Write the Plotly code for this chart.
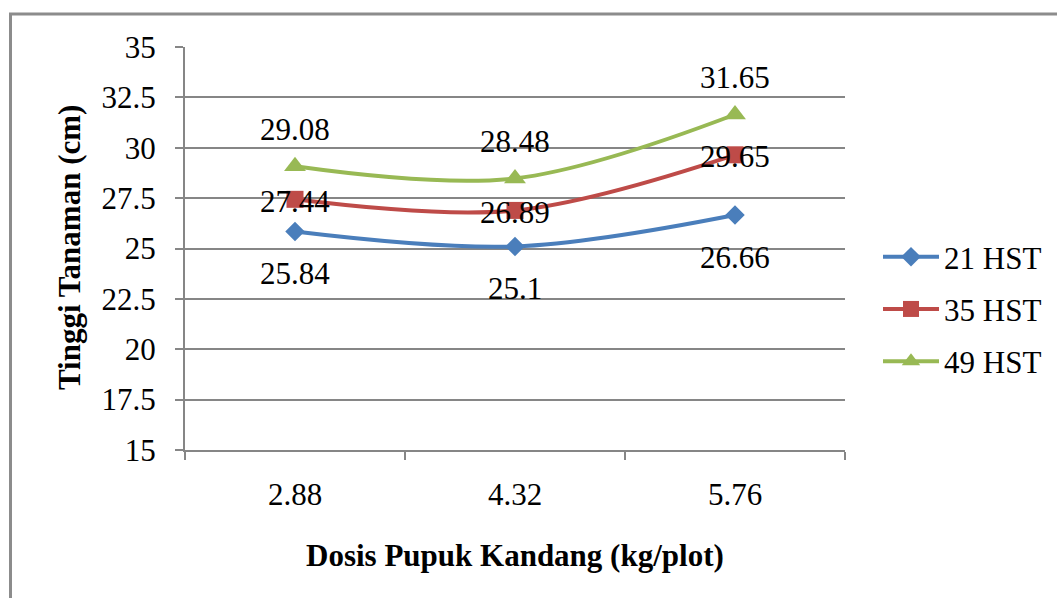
import plotly.graph_objects as go

# Dosis pupuk kandang (kg/plot) and plant height (cm) at each observation day
dosis = ["2.88", "4.32", "5.76"]
hst_21 = [25.84, 25.1, 26.66]
hst_35 = [27.44, 26.89, 29.65]
hst_49 = [29.08, 28.48, 31.65]
y_ticks = [15, 17.5, 20, 22.5, 25, 27.5, 30, 32.5, 35]

W, H = 1057, 598
FONT = "Liberation Serif"
GRID = "#868686"
FS = 31

series = [
    ("21 HST", hst_21, "#4A7EBB", "diamond", 15, -42),
    ("35 HST", hst_35, "#BE4B48", "square", 17, -2),
    ("49 HST", hst_49, "#98B954", "triangle-up", 19, 37),
]

fig = go.Figure()
annotations = []
for name, vals, color, sym, msize, shift in series:
    fig.add_trace(go.Scatter(
        x=dosis, y=vals, name=name, mode="lines+markers", legendgroup=name,
        line=dict(color=color, width=4, shape="spline", smoothing=1),
        marker=dict(symbol=sym, size=msize, color=color),
    ))
    # value labels, anchored on the category index
    for i, yv in enumerate(vals):
        annotations.append(dict(
            x=i, y=yv, xref="x", yref="y", text=f"{yv:g}",
            showarrow=False, yshift=shift,
            font=dict(family=FONT, size=FS, color="black"),
        ))

# Axis titles
annotations.append(dict(
    x=515 / W, y=1 - 555 / H, xref="paper", yref="paper",
    xanchor="center", yanchor="middle",
    text="<b>Dosis Pupuk Kandang (kg/plot)</b>", showarrow=False,
    font=dict(family=FONT, size=31, color="black"),
))
annotations.append(dict(
    x=70 / W, y=1 - 248 / H, xref="paper", yref="paper",
    xanchor="center", yanchor="middle",
    text="<b>Tinggi Tanaman (cm)</b>", showarrow=False, textangle=-90,
    font=dict(family=FONT, size=31, color="black"),
))

fig.update_layout(
    width=W, height=H, autosize=False,
    margin=dict(l=0, r=0, t=0, b=0, pad=0, autoexpand=False),
    paper_bgcolor="white", plot_bgcolor="white",
    font=dict(family=FONT, size=FS, color="black"),
    annotations=annotations,
    shapes=[dict(
        type="rect", xref="paper", yref="paper",
        x0=10.5 / W, x1=1.05, y0=-0.05, y1=1 - 14 / H,
        line=dict(color="#8C8C8C", width=3), fillcolor="rgba(0,0,0,0)",
        layer="below",
    )],
    xaxis=dict(
        domain=[185 / W, 845 / W], type="category",
        range=[-0.5, 2.5], tickson="boundaries",
        ticks="outside", ticklen=8, tickwidth=2, tickcolor=GRID,
        ticklabelstandoff=16,
        showline=True, linecolor=GRID, linewidth=2,
        showgrid=False, zeroline=False, automargin=False,
        tickfont=dict(family=FONT, size=FS, color="black"),
    ),
    yaxis=dict(
        domain=[1 - 450 / H, 1 - 47 / H], range=[15, 35],
        tickvals=y_ticks, ticktext=[f"{v:g}" for v in y_ticks],
        ticks="outside", ticklen=8, tickwidth=2, tickcolor=GRID,
        ticklabelstandoff=13,
        showline=True, linecolor=GRID, linewidth=2, automargin=False,
        showgrid=True, gridcolor=GRID, gridwidth=2, zeroline=False,
        tickfont=dict(family=FONT, size=FS, color="black"),
    ),
    legend=dict(
        x=878 / W, y=1 - 230 / H, xanchor="left", yanchor="top",
        bgcolor="rgba(0,0,0,0)", font=dict(family=FONT, size=FS),
        itemwidth=56, tracegroupgap=9,
    ),
)

fig.write_html("out.html")
